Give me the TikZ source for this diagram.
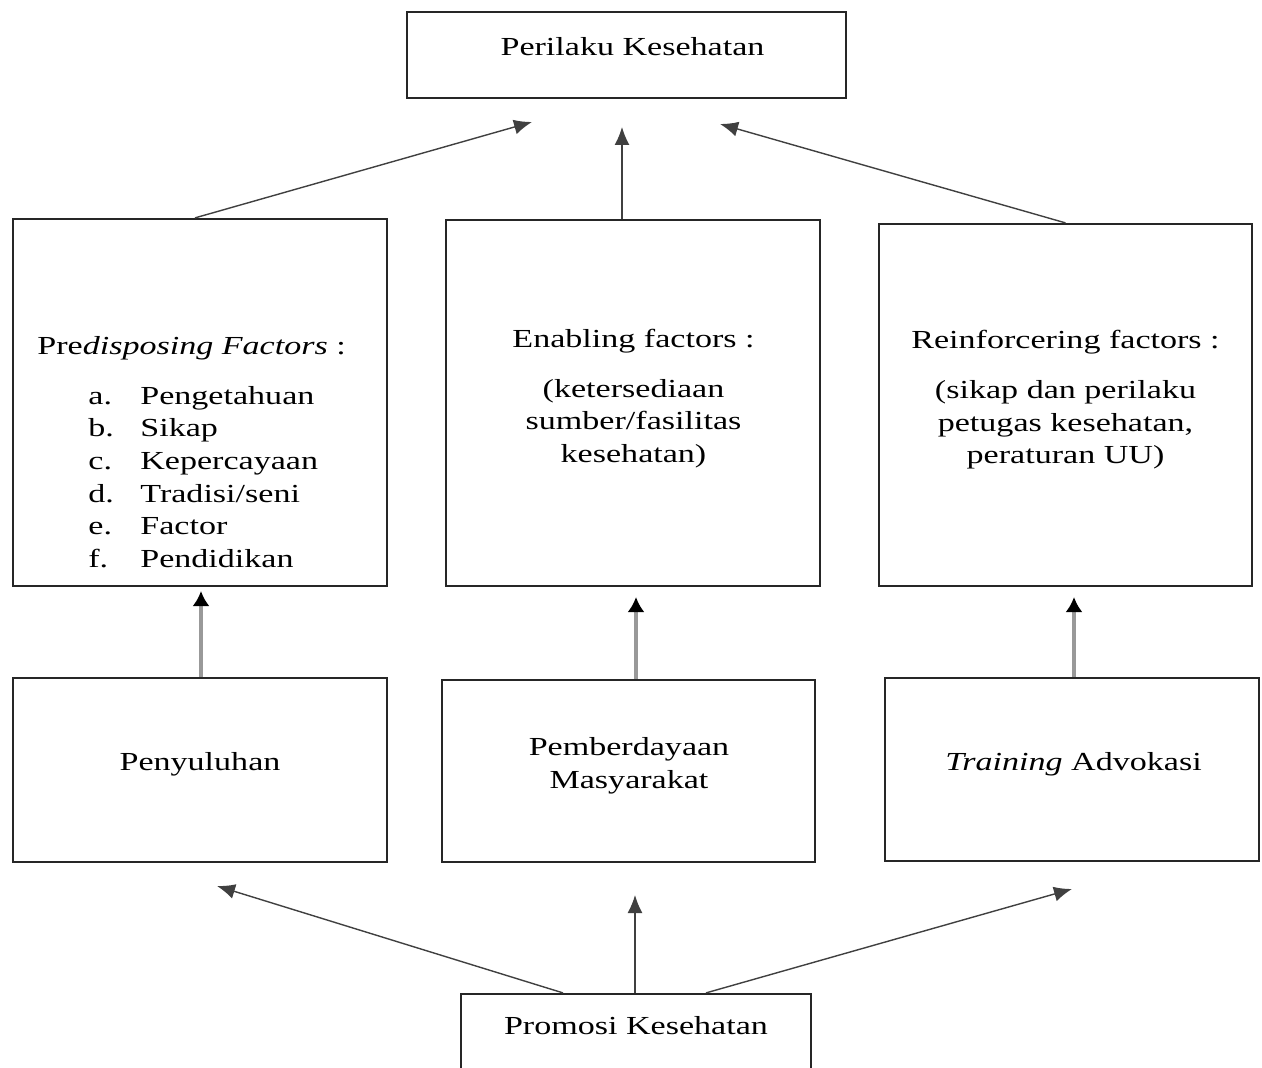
\documentclass[tikz,border=0pt]{standalone}
\usepackage{fontspec}
\setmainfont{Liberation Serif}[FakeStretch=1.31]
\usepackage{tikz}
\usetikzlibrary{arrows.meta}
\usetikzlibrary{calc}
\tikzset{box/.style = {draw=black!85, line width=1.1pt, inner sep=0pt},
         txt/.style = {align=center, inner sep=0pt,
                       font=\fontsize{13}{16.3}\selectfont},
         arr/.style = {-{Latex[length=9pt, width=7.5pt]}, black!75, line width=0.7pt},
         garr/.style = {-{Latex[length=7.5pt, width=8.5pt, color=black]}, black!40,
                        line width=1.6pt}}
\newcommand{\itm}[2]{\hspace*{25.5pt}\makebox[26pt][l]{#1}#2}

\begin{document}
\begin{tikzpicture}[x=0.5pt, y=-0.5pt]
    \useasboundingbox (0, 0) rectangle (1262, 1068);

    \node [box, minimum width=219.5pt, minimum height=43pt] (perilaku) at (626.5, 55) {};
    \node [txt] (perilaku-t) at (632.5, 47) {Perilaku Kesehatan};

    \node [box, minimum width=187pt, minimum height=183.5pt] (pre) at (200, 402.5) {};
    \node [box, minimum width=187pt, minimum height=183pt] (enab) at (633, 403) {};
    \node [box, minimum width=186.5pt, minimum height=181pt] (rein) at (1065.5, 405) {};
    \node [txt, align=left, anchor=west] (pre-t) at (37, 452)
        {Pre\textit{disposing Factors} :\\[8.7pt]
         \itm{a.}{Pengetahuan}\\ \itm{b.}{Sikap}\\ \itm{c.}{Kepercayaan}\\
         \itm{d.}{Tradisi/seni}\\ \itm{e.}{Factor}\\ \itm{f.}{Pendidikan}};
    \node [txt] (enab-t) at (633.5, 398.5)
        {Enabling factors :\\[8.7pt] (ketersediaan\\ sumber/fasilitas\\ kesehatan)};
    \node [txt] (rein-t) at (1065.5, 400)
        {Reinforcering factors :\\[8.7pt] (sikap dan perilaku\\ petugas kesehatan,\\ peraturan UU)};

    \node [box, minimum width=187pt, minimum height=92pt] (peny) at (200, 770) {};
    \node [box, minimum width=186.5pt, minimum height=91pt] (pemb) at (628.5, 771) {};
    \node [box, minimum width=187pt, minimum height=91.5pt] (train) at (1072, 769.5) {};
    \node [txt] (peny-t) at (200, 764) {Penyuluhan};
    \node [txt] (pemb-t) at (629, 766) {Pemberdayaan\\ Masyarakat};
    \node [txt] (train-t) at (1073.5, 764) {\textit{Training} Advokasi};

    \node [box, minimum width=175pt, minimum height=43pt] (promosi) at (636, 1037) {};
    \node [txt] (promosi-t) at (636, 1026) {Promosi Kesehatan};

    \coordinate (tipA) at (532, 122);
    \coordinate (tipB) at (622, 127);
    \coordinate (tipC) at (720, 124);
    \coordinate (tipD) at (201, 591);
    \coordinate (tipE) at (636, 597);
    \coordinate (tipF) at (1074, 597);
    \coordinate (tipG) at (217, 886);
    \coordinate (tipH) at (635, 895);
    \coordinate (tipI) at (1072, 889);

    \draw [arr] ($(pre.north)+(-5, 0)$) -- (tipA);
    \draw [arr] ($(enab.north)+(-11, 0)$) -- (tipB);
    \draw [arr] (rein.north) -- (tipC);

    \draw [garr] ($(peny.north)+(1, 0)$) -- (tipD);
    \draw [garr] ($(pemb.north)+(7.5, 0)$) -- (tipE);
    \draw [garr] ($(train.north)+(2, 0)$) -- (tipF);

    \draw [arr] ($(promosi.north)+(-73, 0)$) -- (tipG);
    \draw [arr] ($(promosi.north)+(-1, 0)$) -- (tipH);
    \draw [arr] ($(promosi.north)+(70, 0)$) -- (tipI);
\end{tikzpicture}
\end{document}
